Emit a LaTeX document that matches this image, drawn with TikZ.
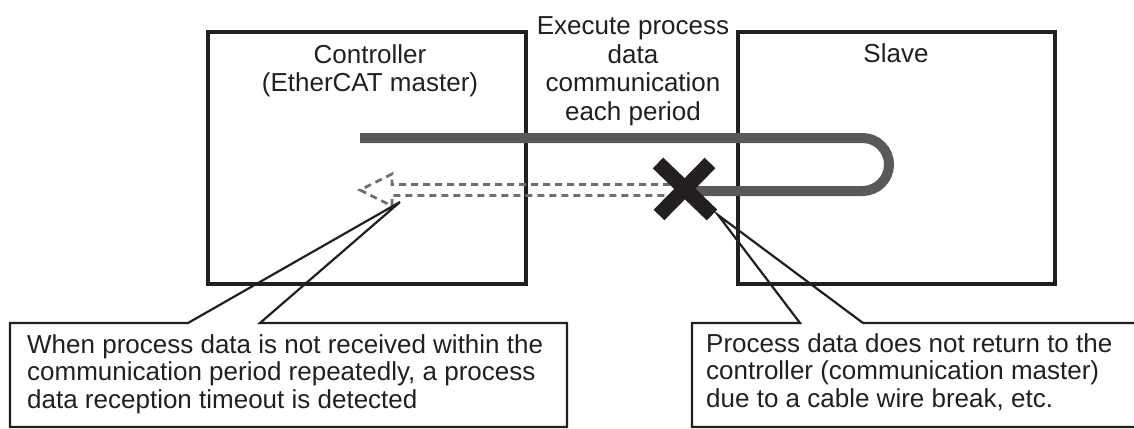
\documentclass[tikz,border=0pt]{standalone}
\usepackage{fontspec}
\setmainfont{Liberation Sans}
\usepackage{xcolor}
\usepackage{tikz}
\usetikzlibrary{positioning}
\definecolor{baseink}{HTML}{231F20}
\definecolor{basegray}{HTML}{58595B}
\definecolor{dashgray}{HTML}{6D6E71}

\begin{document}
\begin{tikzpicture}[x=1pt,y=1pt,
  unitbox/.style={draw=baseink,line width=3.5pt,minimum width=#1,minimum height=252pt,inner sep=0pt},
  lbl/.style={font=\fontsize{26}{28.5}\selectfont,text=baseink,align=center,inner sep=0pt},
  note/.style={font=\fontsize{26}{27.5}\selectfont,text=baseink,align=left,inner sep=0pt},
  callout/.style={draw=baseink,line width=2.2pt}]
  \useasboundingbox (0,0) rectangle (1134,-428);
  % controller and slave
  \node[unitbox=318pt] (ctrl) at (367,-158) {};
  \node[unitbox=317pt] (slave) at (896.5,-158) {};
  \node[lbl,anchor=base] (ctrllbl) at (370,-92) {Controller\\(EtherCAT master)};
  \node[lbl,anchor=base] (slavelbl) at (896,-63) {Slave};
  \node[lbl,anchor=base] (cyclbl) at (633,-120) {Execute process\\data\\communication\\each period};
  % process data loop
  \coordinate (txstart) at (360,-138);
  \coordinate (turn) at (889,-138);
  \coordinate (rxend) at (695,-191);
  \draw[basegray,line width=10pt,rounded corners=26.5pt] (txstart) -- (turn) -- (turn |- rxend) -- (rxend);
  % missing return (dashed)
  \coordinate (rxtip) at (360,-190);
  \draw[dashgray,line width=2.8pt,dash pattern=on 7pt off 5pt]
    (670,-184.5) -- (392,-184.5) -- (392,-174) -- (rxtip) -- (392,-206) -- (392,-195.5) -- (670,-195.5);
  % wire break
  \coordinate (brk) at (685,-189);
  \draw[baseink,line width=15pt] (brk) ++(-27,26) -- ++(54,-52);
  \draw[baseink,line width=15pt] (brk) ++(25,26) -- ++(-51,-52);
  % callouts
  \coordinate (tipA) at (400,-202);
  \coordinate (tipB) at (718,-215);
  \draw[callout] (10,-323) -- (188,-323) -- (tipA) -- (260,-323) -- (567,-323) -- (567,-427) -- (10,-427) -- cycle;
  \node[note,anchor=base west] (leftnote) at (27,-408)
    {When process data is not received within the\\communication period repeatedly, a process\\data reception timeout is detected};
  \draw[callout] (692,-323) -- (800,-323) -- (tipB) -- (863,-323) -- (1150,-323) -- (1150,-427) -- (692,-427) -- cycle;
  \node[note,anchor=base west] (rightnote) at (706,-407)
    {Process data does not return to the\\controller (communication master)\\due to a cable wire break, etc.};
\end{tikzpicture}
\end{document}
